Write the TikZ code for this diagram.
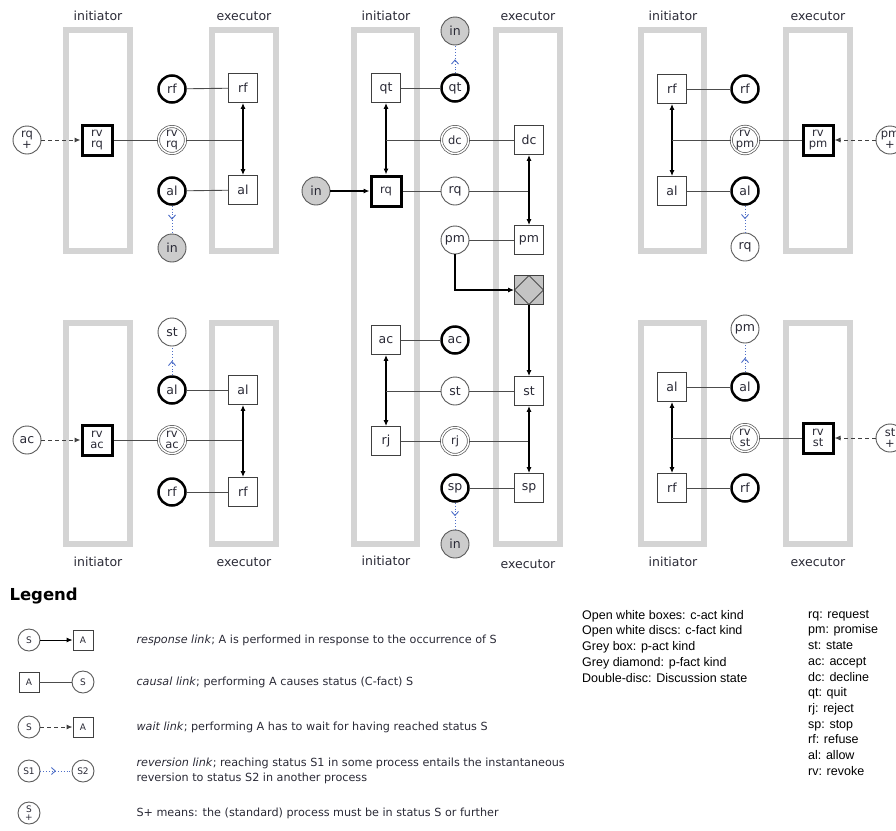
\documentclass[tikz,border=0pt]{standalone}
\usepackage{fontspec}
\setmainfont{DejaVu Sans}
\newfontfamily\arialfont{Liberation Sans}
\usetikzlibrary{arrows.meta,decorations.markings}
\definecolor{lanegrey}{HTML}{D4D4D4}
\definecolor{fillgrey}{HTML}{CCCCCC}
\definecolor{pgrey}{HTML}{C4C4C4}
\definecolor{revblue}{HTML}{4F6FC8}
\definecolor{txtgrey}{HTML}{2A2A36}
\newcommand\lblfont{\fontsize{12.5}{12}\selectfont}
\newcommand\duofont{\fontsize{11.5}{11.5}\selectfont}
\newcommand\lanefont{\fontsize{12.5}{14}\selectfont}
\newcommand\legfont{\fontsize{11.2}{15}\selectfont}
\newcommand\keyfont{\arialfont\fontsize{12.5}{15.7}\selectfont}
\newcommand\tinyfont{\fontsize{9}{8.5}\selectfont}
\begin{document}
\begin{tikzpicture}[x=1pt,y=-1pt,
  every node/.style={text=txtgrey},
  lane/.style={draw=lanegrey,line width=6pt},
  role/.style={font=\lanefont},
  act/.style={draw=black!75,fill=white,line width=0.9pt,minimum size=29pt,inner sep=0pt,font=\lblfont,align=center},
  actini/.style={act,draw=black,line width=3pt,minimum size=30pt,font=\duofont},
  pact/.style={act,fill=pgrey,path picture={\draw[black!70,line width=0.9pt] (path picture bounding box.north) -- (path picture bounding box.east) -- (path picture bounding box.south) -- (path picture bounding box.west) -- cycle;}},
  fact/.style={circle,draw=black!65,fill=white,line width=0.9pt,minimum size=28pt,inner sep=0pt,font=\lblfont,align=center},
  factend/.style={fact,draw=black,line width=2.5pt,minimum size=27pt},
  factdisc/.style={fact,double,double distance=1.5pt,line width=0.7pt,minimum size=27pt,font=\duofont},
  factin/.style={fact,fill=fillgrey},
  factplus/.style={fact,font=\duofont},
  lgfact/.style={fact,minimum size=22pt,font=\tinyfont},
  lgact/.style={act,minimum size=20pt,font=\tinyfont},
  causal/.style={draw=black!70,line width=0.9pt},
  resp/.style={draw=black,line width=1.1pt,-{Latex[length=6pt,width=5pt]}},
  both/.style={resp,{Latex[length=6pt,width=5pt]}-{Latex[length=6pt,width=5pt]}},
  wait/.style={resp,draw=black!75,line width=1pt,dash pattern=on 4pt off 3pt},
  revert/.style={draw=revblue,dotted,line width=0.9pt,postaction={decorate},
    decoration={markings,mark=at position 0.5 with {\arrow[revblue,solid]{Straight Barb[length=4pt,width=7pt]}}}},
  txt/.style={font=\legfont,anchor=west,align=left}]
\useasboundingbox (0,0) rectangle (896,830);

\draw[lane] (66,30) rectangle (130,251);
\draw[lane] (212,30) rectangle (276,251);
\draw[lane] (354,30) rectangle (417,544);
\draw[lane] (496,30) rectangle (560,544);
\draw[lane] (641,30) rectangle (704,251);
\draw[lane] (786,30) rectangle (850,251);
\draw[lane] (66,323) rectangle (130,544);
\draw[lane] (212,323) rectangle (276,544);
\draw[lane] (641,323) rectangle (704,544);
\draw[lane] (786,323) rectangle (850,544);

\node[role] (tl-ini) at (98,16)  {initiator};
\node[role] (tl-exe) at (244,16) {executor};
\node[role] (m-ini)  at (386,16) {initiator};
\node[role] (m-exe)  at (528,16) {executor};
\node[role] (tr-ini) at (673,16) {initiator};
\node[role] (tr-exe) at (818,16) {executor};
\node[role] (bl-ini) at (98,562)  {initiator};
\node[role] (bl-exe) at (244,562) {executor};
\node[role] (m-inib) at (386,561) {initiator};
\node[role] (m-exeb) at (528,564) {executor};
\node[role] (br-ini) at (673,562) {initiator};
\node[role] (br-exe) at (818,562) {executor};

\node[factplus] (tl-plus) at (27,140)  {rq\\+};
\node[actini]   (tl-rvA)  at (97,140)  {rv\\rq};
\node[factdisc] (tl-rvS)  at (172,140) {rv\\rq};
\node[factend]  (tl-rfS)  at (172,89)  {rf};
\node[act]      (tl-rfA)  at (243,88)  {rf};
\node[factend]  (tl-alS)  at (172,191) {al};
\node[act]      (tl-alA)  at (243,190) {al};
\node[factin]   (tl-in)   at (172,248) {in};
\draw[wait] (tl-plus) -- (tl-rvA);
\draw[causal] (tl-rvA) -- (tl-rvS);
\draw[causal] (tl-rvS) -- (tl-rfA |- tl-rvS);
\draw[causal] (tl-rfS) -- (tl-rfA);
\draw[causal] (tl-alS) -- (tl-alA);
\draw[both] (tl-rfA) -- (tl-alA);
\draw[revert] (tl-alS) -- (tl-in);

\node[factin]   (m-inT) at (455,31)  {in};
\node[act]      (m-qtA) at (386,88)  {qt};
\node[factend]  (m-qtS) at (455,88)  {qt};
\node[factdisc] (m-dcS) at (455,140) {dc};
\node[act]      (m-dcA) at (529,140) {dc};
\node[factin]   (m-in)  at (316,191) {in};
\node[actini]   (m-rqA) at (386,191) {rq};
\node[fact]     (m-rqS) at (455,191) {rq};
\node[fact]     (m-pmS) at (455,240) {pm};
\node[act]      (m-pmA) at (529,240) {pm};
\node[pact]     (m-pf)  at (529,290) {};
\node[act]      (m-acA) at (386,340) {ac};
\node[factend]  (m-acS) at (455,340) {ac};
\node[fact]     (m-stS) at (455,391) {st};
\node[act]      (m-stA) at (529,391) {st};
\node[act]      (m-rjA) at (386,441) {rj};
\node[factdisc] (m-rjS) at (455,441) {rj};
\node[factend]  (m-spS) at (455,488) {sp};
\node[act]      (m-spA) at (529,488) {sp};
\node[factin]   (m-inB) at (455,544) {in};
\draw[revert] (m-qtS) -- (m-inT);
\draw[causal] (m-qtA) -- (m-qtS);
\draw[both] (m-qtA) -- (m-rqA);
\draw[causal] (m-dcS) -- (m-qtA |- m-dcS);
\draw[causal] (m-dcS) -- (m-dcA);
\draw[resp] (m-in) -- (m-rqA);
\draw[causal] (m-rqA) -- (m-rqS);
\draw[causal] (m-rqS) -- (m-dcA |- m-rqS);
\draw[both] (m-dcA) -- (m-pmA);
\draw[causal] (m-pmS) -- (m-pmA);
\draw[resp] (m-pmS) |- (m-pf);
\draw[resp] (m-pf) -- (m-stA);
\draw[causal] (m-acA) -- (m-acS);
\draw[both] (m-acA) -- (m-rjA);
\draw[causal] (m-stS) -- (m-acA |- m-stS);
\draw[causal] (m-stS) -- (m-stA);
\draw[causal] (m-rjA) -- (m-rjS);
\draw[causal] (m-rjS) -- (m-stA |- m-rjS);
\draw[both] (m-stA) -- (m-spA);
\draw[causal] (m-spS) -- (m-spA);
\draw[revert] (m-spS) -- (m-inB);

\node[act]      (tr-rfA)  at (672,89)  {rf};
\node[factend]  (tr-rfS)  at (745,89)  {rf};
\node[factdisc] (tr-rvS)  at (745,140) {rv\\pm};
\node[actini]   (tr-rvA)  at (818,140) {rv\\pm};
\node[factplus] (tr-plus) at (890,140) {pm\\+};
\node[act]      (tr-alA)  at (672,191) {al};
\node[factend]  (tr-alS)  at (745,191) {al};
\node[fact]     (tr-rq)   at (745,247) {rq};
\draw[causal] (tr-rfA) -- (tr-rfS);
\draw[both] (tr-rfA) -- (tr-alA);
\draw[causal] (tr-rvS) -- (tr-rfA |- tr-rvS);
\draw[causal] (tr-rvS) -- (tr-rvA);
\draw[wait] (tr-plus) -- (tr-rvA);
\draw[causal] (tr-alA) -- (tr-alS);
\draw[revert] (tr-alS) -- (tr-rq);

\node[fact]     (bl-st)   at (172,332) {st};
\node[factend]  (bl-alS)  at (172,390) {al};
\node[act]      (bl-alA)  at (243,390) {al};
\node[fact]     (bl-ac)   at (27,440)  {ac};
\node[actini]   (bl-rvA)  at (97,440)  {rv\\ac};
\node[factdisc] (bl-rvS)  at (172,440) {rv\\ac};
\node[factend]  (bl-rfS)  at (172,492) {rf};
\node[act]      (bl-rfA)  at (243,492) {rf};
\draw[revert] (bl-alS) -- (bl-st);
\draw[causal] (bl-alS) -- (bl-alA);
\draw[wait] (bl-ac) -- (bl-rvA);
\draw[causal] (bl-rvA) -- (bl-rvS);
\draw[causal] (bl-rvS) -- (bl-alA |- bl-rvS);
\draw[both] (bl-alA) -- (bl-rfA);
\draw[causal] (bl-rfS) -- (bl-rfA);

\node[fact]     (br-pm)   at (745,329) {pm};
\node[act]      (br-alA)  at (672,387) {al};
\node[factend]  (br-alS)  at (745,387) {al};
\node[factdisc] (br-rvS)  at (745,438) {rv\\st};
\node[actini]   (br-rvA)  at (818,438) {rv\\st};
\node[factplus] (br-plus) at (890,438) {st\\+};
\node[act]      (br-rfA)  at (672,488) {rf};
\node[factend]  (br-rfS)  at (745,488) {rf};
\draw[revert] (br-alS) -- (br-pm);
\draw[causal] (br-alA) -- (br-alS);
\draw[both] (br-alA) -- (br-rfA);
\draw[causal] (br-rvS) -- (br-alA |- br-rvS);
\draw[causal] (br-rvS) -- (br-rvA);
\draw[wait] (br-plus) -- (br-rvA);
\draw[causal] (br-rfA) -- (br-rfS);

\node[anchor=west,text=black,font=\fontsize{16.5}{18}\bfseries] (legend) at (6,596) {Legend};
\node[lgfact] (lg-s1) at (29,640) {S};
\node[lgact]  (lg-a1) at (83,640) {A};
\node[lgact]  (lg-a2) at (29,682) {A};
\node[lgfact] (lg-s2) at (83,682) {S};
\node[lgfact] (lg-s3) at (29,727) {S};
\node[lgact]  (lg-a3) at (83,727) {A};
\node[lgfact] (lg-s4) at (29,771) {S1};
\node[lgfact] (lg-s5) at (83,771) {S2};
\node[lgfact] (lg-s6) at (29,813) {S\\+};
\draw[resp,line width=0.9pt] (lg-s1) -- (lg-a1);
\draw[causal] (lg-a2) -- (lg-s2);
\draw[wait] (lg-s3) -- (lg-a3);
\draw[revert] (lg-s4) -- (lg-s5);
\node[txt] (lg-t1) at (133,640) {\textit{response link}; A is performed in response to the occurrence of S};
\node[txt] (lg-t2) at (133,682) {\textit{causal link}; performing A causes status (C-fact) S};
\node[txt] (lg-t3) at (133,727) {\textit{wait link}; performing A has to wait for having reached status S};
\node[txt] (lg-t4) at (133,771) {\textit{reversion link}; reaching status S1 in some process entails the instantaneous\\reversion to status S2 in another process};
\node[txt] (lg-t5) at (133,813) {S+ means: the (standard) process must be in status S or further};

\node[anchor=north west,inner sep=0pt,align=left,font=\keyfont,text=black] (kinds) at (582,610)
  {Open white boxes: c-act kind\\Open white discs: c-fact kind\\Grey box: p-act kind\\Grey diamond: p-fact kind\\Double-disc: Discussion state};
\node[anchor=north west,inner sep=0pt,align=left,font=\keyfont,text=black] (abbrev) at (808,610)
  {rq: request\\pm: promise\\st: state\\ac: accept\\dc: decline\\qt: quit\\rj: reject\\sp: stop\\rf: refuse\\al: allow\\rv: revoke};
\end{tikzpicture}
\end{document}
